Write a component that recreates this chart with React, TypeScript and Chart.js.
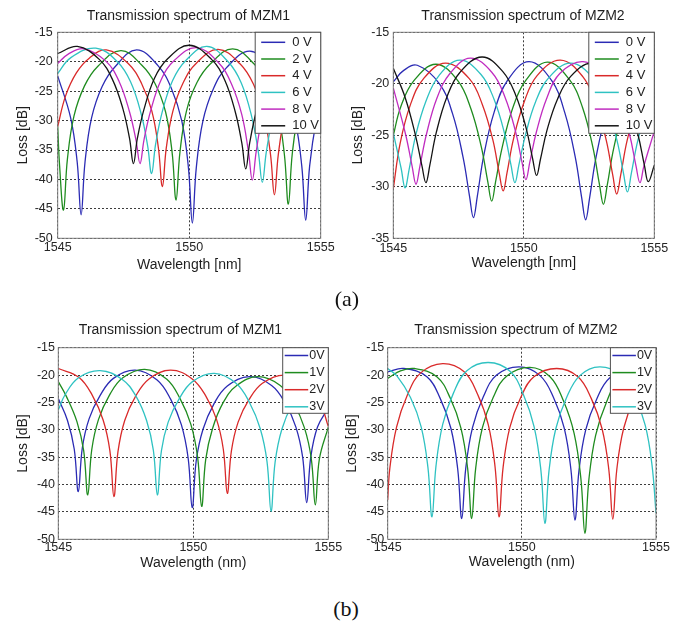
import React, { useEffect, useRef } from 'react';
import { Chart, registerables } from 'chart.js';

Chart.register(...registerables);

type Pt = [number, number];

// ---------- (a) MZM1 : wavelength [nm], loss [dB] ----------
const A1_0V: Pt[] = [[1545.0,-22.4],[1545.49,-29.5],[1545.74,-37.0],[1545.89,-46.0],[1546.04,-37.0],[1546.29,-29.5],[1546.69,-24.2],[1547.19,-20.8],[1548.0,-18.0],[1548.82,-20.7],[1549.32,-24.5],[1549.72,-30.1],[1549.97,-38.0],[1550.12,-47.4],[1550.27,-38.0],[1550.52,-30.1],[1550.92,-24.6],[1551.42,-21.0],[1552.3,-18.2],[1553.13,-21.1],[1553.63,-24.5],[1554.03,-30.0],[1554.28,-37.7],[1554.43,-46.9],[1554.58,-37.7],[1554.83,-30.0],[1555.0,-27.8]];
const A1_2V: Pt[] = [[1545.0,-31.0],[1545.07,-37.5],[1545.22,-45.2],[1545.37,-36.5],[1545.62,-29.2],[1546.02,-24.1],[1546.52,-20.8],[1547.4,-18.1],[1548.2,-20.6],[1548.7,-23.7],[1549.1,-28.5],[1549.35,-35.4],[1549.5,-43.5],[1549.65,-35.3],[1549.9,-28.3],[1550.3,-23.5],[1550.8,-20.4],[1551.65,-17.8],[1552.47,-20.4],[1552.97,-23.6],[1553.37,-28.6],[1553.62,-35.8],[1553.77,-44.2],[1553.92,-35.6],[1554.17,-28.5],[1554.57,-23.5],[1555.0,-21.0]];
const A1_4V: Pt[] = [[1545.0,-31.0],[1545.3,-25.8],[1545.71,-21.9],[1546.2,-19.4],[1546.85,-18.0],[1547.68,-20.3],[1548.18,-23.6],[1548.58,-28.4],[1548.83,-34.7],[1548.98,-41.2],[1549.13,-34.6],[1549.38,-28.4],[1549.78,-23.5],[1550.28,-20.2],[1551.1,-17.9],[1551.94,-20.4],[1552.44,-23.8],[1552.84,-29.0],[1553.09,-35.7],[1553.24,-42.6],[1553.39,-35.7],[1553.64,-29.0],[1554.04,-23.8],[1554.54,-20.4],[1555.0,-19.0]];
const A1_6V: Pt[] = [[1545.0,-22.0],[1545.5,-19.3],[1546.45,-17.7],[1547.27,-20.0],[1547.77,-23.4],[1548.17,-28.8],[1548.42,-34.3],[1548.57,-39.0],[1548.72,-34.1],[1548.97,-28.6],[1549.37,-23.2],[1549.87,-19.8],[1550.67,-17.4],[1551.48,-20.0],[1551.98,-23.6],[1552.38,-29.4],[1552.63,-35.4],[1552.78,-40.5],[1552.93,-35.4],[1553.18,-29.4],[1553.58,-23.6],[1554.08,-20.0],[1554.9,-17.6],[1555.0,-17.7]];
const A1_8V: Pt[] = [[1545.0,-20.3],[1545.4,-18.7],[1546.0,-17.8],[1546.83,-19.9],[1547.33,-23.3],[1547.73,-28.5],[1547.98,-33.4],[1548.13,-37.3],[1548.28,-33.3],[1548.53,-28.4],[1548.93,-23.1],[1549.43,-19.8],[1550.27,-17.6],[1551.1,-20.1],[1551.6,-23.7],[1552.0,-29.0],[1552.25,-35.2],[1552.4,-40.1],[1552.55,-35.2],[1552.8,-29.0],[1553.2,-23.7],[1553.7,-20.1],[1554.53,-17.8],[1555.0,-18.1]];
const A1_10V: Pt[] = [[1545.0,-18.6],[1545.75,-17.4],[1546.58,-19.6],[1547.08,-23.0],[1547.48,-28.0],[1547.73,-33.0],[1547.88,-37.3],[1548.03,-33.0],[1548.28,-28.1],[1548.68,-22.8],[1549.18,-19.5],[1550.0,-17.2],[1550.85,-19.6],[1551.35,-23.1],[1551.75,-28.5],[1552.0,-33.8],[1552.15,-38.2],[1552.3,-33.8],[1552.55,-28.5],[1552.95,-23.1],[1553.45,-19.6],[1554.28,-17.6],[1555.0,-18.2]];

// ---------- (a) MZM2 ----------
const A2_0V: Pt[] = [[1545.0,-19.8],[1545.4,-18.7],[1545.92,-18.2],[1546.77,-20.0],[1547.27,-22.9],[1547.67,-27.1],[1547.92,-30.9],[1548.07,-33.0],[1548.22,-30.9],[1548.47,-26.9],[1548.87,-22.7],[1549.37,-19.7],[1550.2,-17.85],[1551.07,-19.7],[1551.57,-22.8],[1551.97,-27.1],[1552.22,-31.1],[1552.37,-33.2],[1552.52,-31.1],[1552.77,-27.1],[1553.17,-22.8],[1553.67,-19.7],[1554.5,-18.2],[1555.0,-18.5]];
const A2_2V: Pt[] = [[1545.0,-25.0],[1545.29,-22.2],[1545.79,-19.7],[1546.63,-18.1],[1547.47,-19.7],[1547.97,-22.4],[1548.37,-26.1],[1548.62,-29.5],[1548.77,-31.4],[1548.92,-29.5],[1549.17,-26.2],[1549.57,-22.4],[1550.07,-19.7],[1550.9,-17.9],[1551.75,-19.6],[1552.25,-22.3],[1552.65,-26.2],[1552.9,-29.8],[1553.05,-31.7],[1553.2,-29.8],[1553.45,-26.2],[1553.85,-22.3],[1554.35,-19.6],[1555.0,-18.3]];
const A2_4V: Pt[] = [[1545.0,-30.2],[1545.26,-25.8],[1545.66,-22.0],[1546.16,-19.5],[1547.0,-18.0],[1547.91,-19.5],[1548.41,-22.0],[1548.81,-25.4],[1549.06,-28.7],[1549.21,-30.4],[1549.36,-28.6],[1549.61,-25.3],[1550.01,-21.8],[1550.51,-19.2],[1551.4,-17.7],[1552.26,-19.3],[1552.76,-21.9],[1553.16,-25.5],[1553.41,-28.9],[1553.56,-30.7],[1553.71,-28.9],[1553.96,-25.5],[1554.36,-21.9],[1554.86,-19.3],[1555.0,-19.0]];
const A2_6V: Pt[] = [[1545.0,-24.8],[1545.3,-28.2],[1545.45,-30.1],[1545.6,-28.4],[1545.85,-25.1],[1546.25,-21.7],[1546.75,-19.2],[1547.55,-17.7],[1548.36,-19.1],[1548.86,-21.5],[1549.26,-24.8],[1549.51,-27.9],[1549.66,-29.6],[1549.81,-27.9],[1550.06,-25.0],[1550.46,-21.7],[1550.96,-19.4],[1551.8,-18.0],[1552.67,-19.5],[1553.17,-22.0],[1553.57,-25.5],[1553.82,-28.7],[1553.97,-30.5],[1554.12,-28.7],[1554.37,-25.5],[1554.77,-22.0],[1555.0,-21.0]];
const A2_8V: Pt[] = [[1545.0,-20.4],[1545.47,-24.9],[1545.72,-28.0],[1545.87,-29.75],[1546.02,-28.0],[1546.27,-24.9],[1546.67,-21.4],[1547.17,-19.0],[1547.95,-17.5],[1548.78,-18.9],[1549.28,-21.3],[1549.68,-24.6],[1549.93,-27.6],[1550.08,-29.3],[1550.23,-27.6],[1550.48,-24.7],[1550.88,-21.4],[1551.38,-19.0],[1552.27,-17.85],[1553.15,-19.3],[1553.65,-21.6],[1554.05,-24.9],[1554.3,-28.0],[1554.45,-29.6],[1554.6,-28.0],[1555.0,-24.6]];
const A2_10V: Pt[] = [[1545.0,-18.5],[1545.45,-21.3],[1545.85,-25.0],[1546.1,-28.0],[1546.25,-29.6],[1546.4,-27.9],[1546.65,-24.7],[1547.05,-21.3],[1547.55,-18.9],[1548.4,-17.4],[1549.19,-18.8],[1549.69,-21.1],[1550.09,-24.3],[1550.34,-27.3],[1550.49,-28.9],[1550.64,-27.3],[1550.89,-24.5],[1551.29,-21.5],[1551.79,-19.3],[1552.6,-18.0],[1553.47,-19.4],[1553.97,-21.7],[1554.37,-24.9],[1554.62,-27.9],[1554.77,-29.5],[1555.0,-27.9]];

// ---------- (b) MZM1 ----------
const B1_0V: Pt[] = [[1545.0,-24.3],[1545.34,-28.3],[1545.59,-33.5],[1545.74,-41.3],[1545.89,-33.3],[1546.14,-28.0],[1546.54,-23.8],[1547.04,-20.6],[1547.85,-19.1],[1548.66,-20.9],[1549.16,-24.4],[1549.56,-29.1],[1549.81,-35.2],[1549.96,-44.2],[1550.11,-35.6],[1550.36,-29.9],[1550.76,-25.3],[1551.26,-22.0],[1552.08,-20.3],[1552.9,-21.9],[1553.4,-25.1],[1553.8,-29.5],[1554.05,-35.0],[1554.2,-43.3],[1554.35,-35.0],[1554.6,-29.5],[1555.0,-26.0]];
const B1_1V: Pt[] = [[1545.0,-21.2],[1545.29,-23.8],[1545.69,-28.5],[1545.94,-33.8],[1546.09,-41.9],[1546.24,-33.6],[1546.49,-28.1],[1546.89,-23.7],[1547.39,-20.5],[1548.2,-18.95],[1549.01,-20.7],[1549.51,-24.3],[1549.91,-29.0],[1550.16,-35.0],[1550.31,-44.0],[1550.46,-35.4],[1550.71,-29.8],[1551.11,-25.0],[1551.61,-21.9],[1552.4,-20.3],[1553.22,-21.9],[1553.72,-25.2],[1554.12,-29.7],[1554.37,-35.3],[1554.52,-43.7],[1554.67,-35.3],[1555.0,-29.5]];
const B1_2V: Pt[] = [[1545.0,-18.8],[1545.76,-20.4],[1546.26,-23.7],[1546.66,-28.2],[1546.91,-33.8],[1547.06,-42.2],[1547.21,-34.0],[1547.46,-28.3],[1547.86,-23.9],[1548.36,-20.7],[1549.16,-19.1],[1549.96,-20.7],[1550.46,-23.8],[1550.86,-28.1],[1551.11,-33.5],[1551.26,-41.6],[1551.41,-33.9],[1551.66,-28.6],[1552.06,-24.5],[1552.56,-21.5],[1553.36,-20.0],[1554.16,-21.5],[1554.66,-24.5],[1555.0,-29.4]];
const B1_3V: Pt[] = [[1545.0,-26.4],[1545.25,-23.6],[1545.75,-20.5],[1546.55,-19.2],[1547.37,-20.8],[1547.87,-23.8],[1548.27,-28.3],[1548.52,-33.7],[1548.67,-41.9],[1548.82,-33.8],[1549.07,-28.6],[1549.47,-24.4],[1549.97,-21.2],[1550.78,-19.7],[1551.58,-21.5],[1552.08,-25.0],[1552.48,-29.8],[1552.73,-35.8],[1552.88,-44.9],[1553.03,-35.9],[1553.28,-29.9],[1553.68,-25.2],[1554.18,-21.7],[1555.0,-20.2]];

// ---------- (b) MZM2 ----------
const B2_0V: Pt[] = [[1545.0,-19.4],[1545.6,-18.8],[1546.46,-20.3],[1546.96,-24.3],[1547.36,-29.8],[1547.61,-37.2],[1547.76,-46.2],[1547.91,-37.0],[1548.16,-29.6],[1548.56,-24.0],[1549.06,-20.0],[1549.9,-18.5],[1550.68,-20.1],[1551.18,-24.1],[1551.58,-29.7],[1551.83,-37.3],[1551.98,-46.5],[1552.13,-37.4],[1552.38,-30.0],[1552.78,-24.5],[1553.28,-20.5],[1554.1,-19.0],[1555.0,-20.0]];
const B2_1V: Pt[] = [[1545.0,-20.6],[1545.5,-19.2],[1546.0,-18.8],[1546.83,-20.3],[1547.33,-24.2],[1547.73,-29.7],[1547.98,-37.1],[1548.13,-46.2],[1548.28,-37.0],[1548.53,-29.6],[1548.93,-24.1],[1549.43,-20.2],[1550.3,-18.6],[1551.05,-20.3],[1551.55,-24.7],[1551.95,-30.7],[1552.2,-38.9],[1552.35,-48.9],[1552.5,-39.0],[1552.75,-31.0],[1553.15,-25.0],[1553.65,-20.6],[1554.5,-19.2],[1555.0,-19.8]];
const B2_2V: Pt[] = [[1545.0,-42.8],[1545.08,-37.0],[1545.33,-29.5],[1545.73,-23.7],[1546.23,-19.6],[1547.05,-17.9],[1547.85,-19.4],[1548.35,-23.5],[1548.75,-29.1],[1549.0,-36.7],[1549.15,-45.9],[1549.3,-36.9],[1549.55,-29.6],[1549.95,-24.2],[1550.45,-20.3],[1551.3,-18.8],[1552.09,-20.3],[1552.59,-24.3],[1552.99,-29.8],[1553.24,-37.2],[1553.39,-46.3],[1553.54,-37.2],[1553.79,-29.8],[1554.19,-24.3],[1554.69,-20.3],[1555.0,-19.5]];
const B2_3V: Pt[] = [[1545.0,-18.8],[1545.35,-20.2],[1545.85,-24.1],[1546.25,-29.5],[1546.5,-36.9],[1546.65,-45.9],[1546.8,-36.6],[1547.05,-29.0],[1547.45,-23.3],[1547.95,-19.2],[1548.75,-17.7],[1549.56,-19.3],[1550.06,-23.6],[1550.46,-29.5],[1550.71,-37.4],[1550.86,-47.1],[1551.01,-37.6],[1551.26,-29.9],[1551.66,-24.2],[1552.16,-20.1],[1552.9,-18.5],[1553.7,-20.0],[1554.2,-23.8],[1554.6,-29.2],[1554.85,-36.4],[1555.0,-45.2]];

const A_LABELS = ['0 V', '2 V', '4 V', '6 V', '8 V', '10 V'];
const B_LABELS = ['0V', '1V', '2V', '3V'];
const X_RANGE = [1545, 1555];
const Y_RANGE_WIDE = [-50, -15];
const Y_RANGE_NARROW = [-35, -15];
const TICK_STEP_X = 5;
const TICK_STEP_Y = 5;

const COLORS = ['#2b2bb4', '#1f8c1f', '#d92a2a', '#2fc2c2', '#c02cc0', '#141414'];
const FAMILY = '"Liberation Sans", Arial, Helvetica, sans-serif';

interface LegendGeom { w: number; h: number; row0: number; gap: number; l0: number; l1: number; tx: number; font: number; }
interface PanelProps {
  title: string; xTitle: string; series: Pt[][]; labels: string[]; yRange: number[];
  left: number; top: number; width: number; height: number;
  plotTop: number; padR: number; yW: number; xH: number;
  titleX: number; titleY: number;
  xTickPad: number; yTickPad: number; xTitlePad: number; yTitlePad: number;
  legend: LegendGeom;
}

function overlayPlugin(p: PanelProps) {
  const leg = p.legend;
  return {
    id: 'frameAndLegend',
    afterDatasetsDraw(chart: any) {
      const { ctx, chartArea: ca } = chart;
      ctx.save();
      ctx.setLineDash([]);
      ctx.strokeStyle = '#7d7d7d';
      ctx.lineWidth = 1;
      ctx.strokeRect(ca.left, ca.top, ca.right - ca.left, ca.bottom - ca.top);
      const bx = ca.right - leg.w;
      const by = ca.top;
      ctx.fillStyle = '#ffffff';
      ctx.fillRect(bx, by, leg.w, leg.h);
      ctx.strokeStyle = '#505050';
      ctx.strokeRect(bx, by, leg.w, leg.h);
      ctx.font = `${leg.font}px ${FAMILY}`;
      ctx.textBaseline = 'middle';
      ctx.textAlign = 'left';
      chart.data.datasets.forEach((ds: any, i: number) => {
        const y = by + leg.row0 + i * leg.gap;
        ctx.strokeStyle = ds.borderColor;
        ctx.lineWidth = 1.5;
        ctx.beginPath();
        ctx.moveTo(bx + leg.l0, y);
        ctx.lineTo(bx + leg.l1, y);
        ctx.stroke();
        ctx.fillStyle = '#222';
        ctx.fillText(ds.label, bx + leg.tx, y);
      });
      // panel title
      ctx.font = `14px ${FAMILY}`;
      ctx.textAlign = 'center';
      ctx.fillStyle = '#1e1e1e';
      ctx.fillText(p.title, p.titleX - p.left, p.titleY - p.top);
      ctx.restore();
    },
  };
}

function Panel(p: PanelProps) {
  const ref = useRef<HTMLCanvasElement | null>(null);
  useEffect(() => {
    if (!ref.current) return;
    const n = p.series.length;
    const gridOpts = { color: '#3c3c3c', lineWidth: 1, drawTicks: false };
    const borderOpts = { display: false, dash: [2, 2] };
    const chart = new Chart(ref.current, {
      type: 'line',
      data: {
        datasets: p.series.map((s, i) => ({
          label: p.labels[i],
          data: s.map(([x, y]) => ({ x, y })),
          borderColor: COLORS[i],
          backgroundColor: COLORS[i],
          borderWidth: 1.3,
          pointRadius: 0,
          tension: 0.4,
          fill: false,
          order: n - 1 - i,
        })),
      },
      options: {
        animation: false,
        responsive: false,
        devicePixelRatio: 1,
        layout: { autoPadding: false, padding: { left: 0, right: p.padR, top: p.plotTop - p.top, bottom: 0 } },
        plugins: {
          legend: { display: false },
          tooltip: { enabled: false },
          title: { display: false },
        },
        scales: {
          x: {
            type: 'linear',
            min: X_RANGE[0],
            max: X_RANGE[1],
            afterFit: (s: any) => { s.height = p.xH; },
            ticks: {
              stepSize: TICK_STEP_X,
              padding: p.xTickPad,
              color: '#262626',
              font: { size: 12.5, family: FAMILY },
              maxRotation: 0,
              autoSkip: false,
              callback: (v: any) => String(v),
            },
            grid: gridOpts,
            border: borderOpts,
            title: {
              display: true,
              text: p.xTitle,
              color: '#1e1e1e',
              font: { size: 14, family: FAMILY },
              padding: { top: 0, bottom: p.xTitlePad },
            },
          },
          y: {
            type: 'linear',
            min: p.yRange[0],
            max: p.yRange[1],
            afterFit: (s: any) => { s.width = p.yW; },
            ticks: {
              stepSize: TICK_STEP_Y,
              padding: p.yTickPad,
              color: '#262626',
              font: { size: 12.5, family: FAMILY },
              callback: (v: any) => String(v),
            },
            grid: gridOpts,
            border: borderOpts,
            title: {
              display: true,
              text: 'Loss [dB]',
              color: '#1e1e1e',
              font: { size: 14, family: FAMILY },
              padding: { top: p.yTitlePad, bottom: 0 },
            },
          },
        },
      } as any,
      plugins: [overlayPlugin(p)],
    } as any);
    return () => chart.destroy();
  }, []);
  return (
    <canvas
      ref={ref}
      width={p.width}
      height={p.height}
      style={{ position: 'absolute', left: p.left, top: p.top, width: p.width, height: p.height }}
    />
  );
}

const LEG_A: LegendGeom = { w: 65.5, h: 101, row0: 10, gap: 16.7, l0: 6, l1: 30, tx: 37, font: 13 };
const LEG_B: LegendGeom = { w: 45.6, h: 65.6, row0: 7.8, gap: 17.1, l0: 2, l1: 25.5, tx: 26.5, font: 12.5 };

export default function App() {
  return (
    <div style={{ position: 'absolute', left: 0, top: 0, width: 683, height: 624, background: '#fff', overflow: 'hidden' }}>
      <Panel
        title="Transmission spectrum of MZM1" xTitle="Wavelength [nm]"
        series={[A1_0V, A1_2V, A1_4V, A1_6V, A1_8V, A1_10V]} labels={A_LABELS} yRange={Y_RANGE_WIDE}
        left={0} top={0} width={341} height={280}
        plotTop={32.3} padR={20.3} yW={57.7} xH={41.7}
        titleX={188.5} titleY={16}
        xTickPad={2.2} yTickPad={5} xTitlePad={6.6} yTitlePad={14.9}
        legend={LEG_A}
      />
      <Panel
        title="Transmission spectrum of MZM2" xTitle="Wavelength [nm]"
        series={[A2_0V, A2_2V, A2_4V, A2_6V, A2_8V, A2_10V]} labels={A_LABELS} yRange={Y_RANGE_NARROW}
        left={341} top={0} width={333} height={280}
        plotTop={32.3} padR={19.7} yW={52.3} xH={41.7}
        titleX={523} titleY={16}
        xTickPad={2.5} yTickPad={4} xTitlePad={8.3} yTitlePad={8.9}
        legend={LEG_A}
      />
      <Panel
        title="Transmission spectrum of MZM1" xTitle="Wavelength (nm)"
        series={[B1_0V, B1_1V, B1_2V, B1_3V]} labels={B_LABELS} yRange={Y_RANGE_WIDE}
        left={0} top={310} width={344} height={280}
        plotTop={347.7} padR={15.7} yW={58.3} xH={50.7}
        titleX={180.5} titleY={330}
        xTickPad={0.5} yTickPad={3.3} xTitlePad={18.3} yTitlePad={14.3}
        legend={LEG_B}
      />
      <Panel
        title="Transmission spectrum of MZM2" xTitle="Wavelength (nm)"
        series={[B2_0V, B2_1V, B2_2V, B2_3V]} labels={B_LABELS} yRange={Y_RANGE_WIDE}
        left={341} top={310} width={335} height={280}
        plotTop={347.7} padR={20} yW={46.7} xH={50.7}
        titleX={516} titleY={330}
        xTickPad={0.5} yTickPad={3.4} xTitlePad={19.3} yTitlePad={2.3}
        legend={LEG_B}
      />
      <div style={{ position: 'absolute', left: 297, top: 287, width: 100, textAlign: 'center', fontFamily: '"Liberation Serif", "Times New Roman", serif', fontSize: 22, lineHeight: '24px', color: '#111' }}>(a)</div>
      <div style={{ position: 'absolute', left: 296, top: 597, width: 100, textAlign: 'center', fontFamily: '"Liberation Serif", "Times New Roman", serif', fontSize: 22, lineHeight: '24px', color: '#111' }}>(b)</div>
    </div>
  );
}
